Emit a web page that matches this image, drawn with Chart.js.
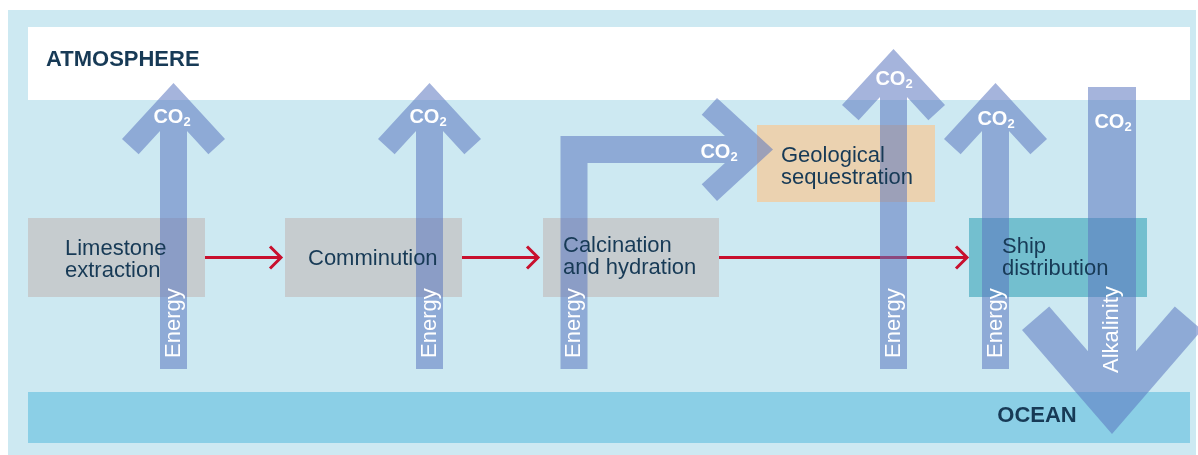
<!DOCTYPE html>
<html>
<head>
<meta charset="utf-8">
<script src="https://cdn.jsdelivr.net/npm/chart.js@4/dist/chart.umd.min.js"></script>
<style>
  html, body { margin: 0; padding: 0; background: #fff; }
  #wrap { width: 1198px; height: 455px; }
</style>
</head>
<body>
<div id="wrap"><canvas id="diagram" width="1198" height="455"></canvas></div>
<script>
// Ocean liming process diagram – drawn on a hidden linear x/y grid (diagram units)

// zones
const zoneNames = ["ATMOSPHERE", "OCEAN"];
const zoneLeft = [28, 28];
const zoneRight = [1190, 1190];
const zoneTop = [27, 392];
const zoneBottom = [100, 443];
const zoneTextX = [46, 1037];
const zoneTextY = [60, 416];

// process stages
const stageLines = [["Limestone", "extraction"], ["Comminution"], ["Calcination", "and hydration"],
  ["Geological", "sequestration"], ["Ship", "distribution"]];
const stageLeft = [28, 285, 543, 757, 969];
const stageRight = [205, 462, 719, 935, 1147];
const stageTop = [218, 218, 218, 125, 218];
const stageBottom = [297, 297, 297, 202, 297];
const stageTextX = [65, 308, 563, 781, 1002];
const stageBaseline = [255, 265, 252, 162, 253];

// red process flow connectors
const linkFrom = [205, 462, 719];
const linkTo = [281, 538, 967];
const linkY = [257.5, 257.5, 257.5];

// blue flows (tail ... tip)
const flowPaths = [
  [[173.5, 369], [173.5, 83]],
  [[429.5, 369], [429.5, 83]],
  [[574, 369], [574, 149.5], [773, 149.5]],
  [[893.5, 369], [893.5, 49]],
  [[995.5, 369], [995.5, 83]],
  [[1112, 87], [1112, 434]]
];
const flowKind = ["thin", "thin", "thin", "thin", "thin", "wide"];
const co2X = [172, 428, 719, 894, 996, 1113];
const co2Y = [117, 117, 152, 79, 119, 122];
const sideLabel = ["Energy", "Energy", "Energy", "Energy", "Energy", "Alkalinity"];
const sideLabelX = [173.5, 429.5, 574, 893.5, 995.5, 1112];
const sideLabelEnd = [358, 358, 358, 358, 358, 373];

const ARROW = {
  thin: { half: 13.5, back: 56, wing: 51.5, thick: 22.6 },
  wide: { half: 24, back: 104, wing: 90, thick: 36 }
};
const C = {
  panel: "#cde9f2", atm: "#ffffff", ocean: "#8bcfe6",
  stage: ["#c6cccf", "#c6cccf", "#c6cccf", "#ebd2b0", "#73bfcf"],
  flow: "rgba(91,118,191,0.55)", link: "#c8102e", text: "#173a56"
};
const FONT = "'Liberation Sans', Arial, Helvetica, sans-serif";

function addPoly(ctx, pts) {
  let area = 0;
  for (let i = 0; i < pts.length; i++) {
    const a = pts[i], b = pts[(i + 1) % pts.length];
    area += a[0] * b[1] - b[0] * a[1];
  }
  if (area < 0) pts = pts.slice().reverse();
  ctx.moveTo(pts[0][0], pts[0][1]);
  for (let i = 1; i < pts.length; i++) ctx.lineTo(pts[i][0], pts[i][1]);
  ctx.closePath();
}

function flowShape(ctx, pts, st) {
  const n = pts.length;
  const len = Math.hypot(st.back, st.wing);
  const ua = st.back / len, uc = st.wing / len;
  const na = st.wing / len, nc = -st.back / len;
  const endA = st.back + st.thick * na, endC = st.wing + st.thick * nc;
  const k = (st.half + st.thick * st.back / len) / uc;
  const inA = st.thick * na + k * ua;   // notch where head meets shaft

  // shaft segments
  for (let i = 0; i < n - 1; i++) {
    const [x0, y0] = pts[i], [x1, y1] = pts[i + 1];
    const sl = Math.hypot(x1 - x0, y1 - y0);
    const dx = (x1 - x0) / sl, dy = (y1 - y0) / sl;
    const ext0 = i > 0 ? st.half : 0;
    const ext1 = i < n - 2 ? st.half : -(inA - 1);
    const ax = x0 - dx * ext0, ay = y0 - dy * ext0;
    const bx = x1 + dx * ext1, by = y1 + dy * ext1;
    const nx = -dy * st.half, ny = dx * st.half;
    addPoly(ctx, [[ax + nx, ay + ny], [bx + nx, by + ny], [bx - nx, by - ny], [ax - nx, ay - ny]]);
  }
  // chevron head
  const [px, py] = pts[n - 1], [qx, qy] = pts[n - 2];
  const L = Math.hypot(px - qx, py - qy);
  const dx = (px - qx) / L, dy = (py - qy) / L;   // toward tip
  const nx = -dy, ny = dx;
  const at = (a, c) => [px - dx * a + nx * c, py - dy * a + ny * c];
  addPoly(ctx, [at(0, 0), at(st.back, st.wing), at(endA, endC), at(inA, st.half),
    at(inA, -st.half), at(endA, -endC), at(st.back, -st.wing)]);
}

const diagramPlugin = {
  id: "diagram",
  afterDraw(chart) {
    const ctx = chart.ctx, xs = chart.scales.x, ys = chart.scales.y;
    const X = v => xs.getPixelForValue(v), Y = v => ys.getPixelForValue(v);
    const rect = (l, t, r, b, col) => { ctx.fillStyle = col; ctx.fillRect(X(l), Y(t), X(r) - X(l), Y(b) - Y(t)); };
    ctx.save();

    rect(8, 10, 1196, 455, C.panel);
    zoneNames.forEach((z, i) => rect(zoneLeft[i], zoneTop[i], zoneRight[i], zoneBottom[i], i ? C.ocean : C.atm));
    stageLines.forEach((s, i) => rect(stageLeft[i], stageTop[i], stageRight[i], stageBottom[i], C.stage[i]));

    // red connectors
    ctx.strokeStyle = C.link; ctx.lineWidth = 3; ctx.lineJoin = "miter"; ctx.lineCap = "butt";
    linkFrom.forEach((f, i) => {
      const y = Y(linkY[i]), tx = X(linkTo[i]);
      ctx.beginPath(); ctx.moveTo(X(f), y); ctx.lineTo(tx - 1.5, y); ctx.stroke();
      ctx.beginPath(); ctx.moveTo(tx - 11, y - 11); ctx.lineTo(tx, y); ctx.lineTo(tx - 11, y + 11); ctx.stroke();
    });

    // blue flows
    flowPaths.forEach((p, i) => {
      ctx.beginPath();
      flowShape(ctx, p.map(([x, y]) => [X(x), Y(y)]), ARROW[flowKind[i]]);
      ctx.fillStyle = C.flow;
      ctx.fill("nonzero");
    });

    // zone labels
    ctx.fillStyle = C.text; ctx.textBaseline = "middle";
    ctx.font = "bold 22px " + FONT;
    ctx.textAlign = "left"; ctx.fillText(zoneNames[0], X(zoneTextX[0]), Y(zoneTextY[0]));
    ctx.textAlign = "center"; ctx.fillText(zoneNames[1], X(zoneTextX[1]), Y(zoneTextY[1]));

    // stage labels
    ctx.font = "22px " + FONT; ctx.textAlign = "left"; ctx.textBaseline = "alphabetic";
    stageLines.forEach((lines, i) => lines.forEach((t, j) =>
      ctx.fillText(t, X(stageTextX[i]), Y(stageBaseline[i] + j * 22))));

    // CO2 labels
    ctx.fillStyle = "#ffffff"; ctx.textBaseline = "middle"; ctx.textAlign = "left";
    co2X.forEach((cx, i) => {
      ctx.font = "bold 20px " + FONT; const w1 = ctx.measureText("CO").width;
      ctx.font = "bold 13px " + FONT; const w2 = ctx.measureText("2").width;
      const x0 = X(cx) - (w1 + w2) / 2;
      ctx.font = "bold 20px " + FONT; ctx.fillText("CO", x0, Y(co2Y[i]));
      ctx.font = "bold 13px " + FONT; ctx.fillText("2", x0 + w1, Y(co2Y[i]) + 5);
    });

    // rotated flow labels
    ctx.font = "22px " + FONT;
    sideLabel.forEach((t, i) => {
      ctx.save();
      ctx.translate(X(sideLabelX[i]), Y(sideLabelEnd[i]));
      ctx.rotate(-Math.PI / 2);
      ctx.fillText(t, 0, 0);
      ctx.restore();
    });
    ctx.restore();
  }
};

new Chart(document.getElementById("diagram"), {
  type: "scatter",
  data: { datasets: [{ data: [], pointRadius: 0 }] },
  options: {
    responsive: false,
    animation: false,
    devicePixelRatio: 1,
    layout: { padding: 0 },
    plugins: { legend: { display: false }, tooltip: { enabled: false } },
    scales: {
      x: { type: "linear", min: 0, max: 1198, display: false },
      y: { type: "linear", min: 0, max: 455, reverse: true, display: false }
    }
  },
  plugins: [diagramPlugin]
});
</script>
</body>
</html>
